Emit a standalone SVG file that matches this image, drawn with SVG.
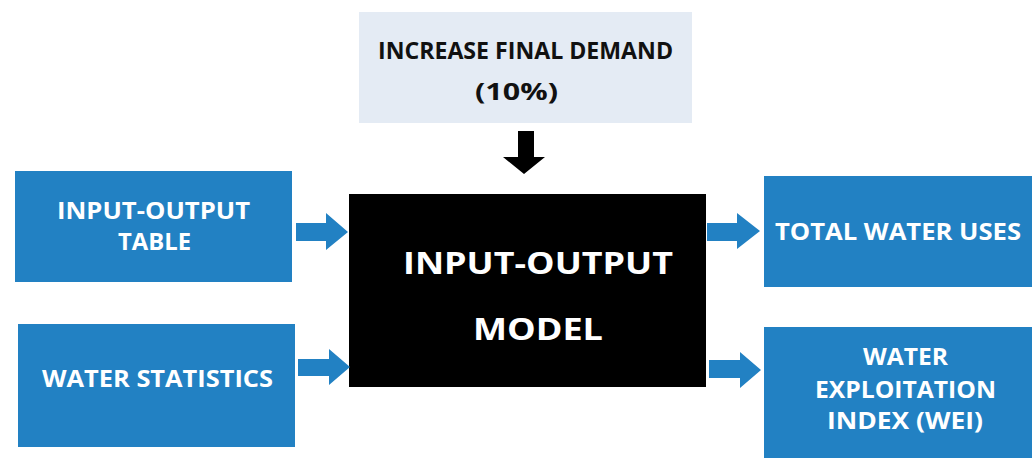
<svg xmlns="http://www.w3.org/2000/svg" width="1036" height="459" viewBox="0 0 1036 459">
<style>
.blue{fill:#2281c3}
.t{font-family:"Open Sans","Liberation Sans",sans-serif;font-weight:bold;text-anchor:middle}
.w{fill:#ffffff;font-size:23px}
.k{fill:#111111;font-size:23px}
.m{fill:#ffffff;font-size:30.5px}
.arr{fill:#2281c3}
</style>
<rect width="1036" height="459" fill="#ffffff"/>
<g id="demand">
<rect x="359" y="12" width="333" height="111" fill="#e4ebf4"/>
<text class="t k" x="525.5" y="59" textLength="295" lengthAdjust="spacingAndGlyphs">INCREASE FINAL DEMAND</text>
<text class="t k" x="516.5" y="100" textLength="83" lengthAdjust="spacingAndGlyphs">(10%)</text>
</g>
<g id="model">
<rect x="349" y="194" width="357" height="193" fill="#000000"/>
<text class="t m" x="538" y="274" textLength="270" lengthAdjust="spacingAndGlyphs">INPUT-OUTPUT</text>
<text class="t m" x="538" y="340" textLength="130" lengthAdjust="spacingAndGlyphs">MODEL</text>
</g>
<g id="io-table">
<rect class="blue" x="15" y="171" width="277" height="111"/>
<text class="t w" x="153.5" y="219" textLength="193" lengthAdjust="spacingAndGlyphs">INPUT-OUTPUT</text>
<text class="t w" x="154.5" y="250" textLength="73" lengthAdjust="spacingAndGlyphs">TABLE</text>
</g>
<g id="water-stats">
<rect class="blue" x="18" y="324" width="277" height="123"/>
<text class="t w" x="157.5" y="387" textLength="231" lengthAdjust="spacingAndGlyphs">WATER STATISTICS</text>
</g>
<g id="total-uses">
<rect class="blue" x="764" y="176" width="268" height="111"/>
<text class="t w" x="898" y="240" textLength="246" lengthAdjust="spacingAndGlyphs">TOTAL WATER USES</text>
</g>
<g id="wei">
<rect class="blue" x="764" y="327" width="268" height="131"/>
<text class="t w" x="905.5" y="365" textLength="85" lengthAdjust="spacingAndGlyphs">WATER</text>
<text class="t w" x="905.5" y="398" textLength="181" lengthAdjust="spacingAndGlyphs">EXPLOITATION</text>
<text class="t w" x="905" y="429" textLength="156" lengthAdjust="spacingAndGlyphs">INDEX (WEI)</text>
</g>
<g id="connectors">
<polygon fill="#000000" points="518,131 534,131 534,157 545,157 524,174 503,157 518,157"/>
<polygon class="arr" points="296,223 326,223 326,213 348,232 326,250 326,241 296,241"/>
<polygon class="arr" points="298,359 329,359 329,349 350,367 329,385 329,376 298,376"/>
<polygon class="arr" points="707,223 737,223 737,213 760,231 737,249 737,241 707,241"/>
<polygon class="arr" points="709,360 740,360 740,352 761,370 740,388 740,378 709,378"/>
</g>
</svg>
